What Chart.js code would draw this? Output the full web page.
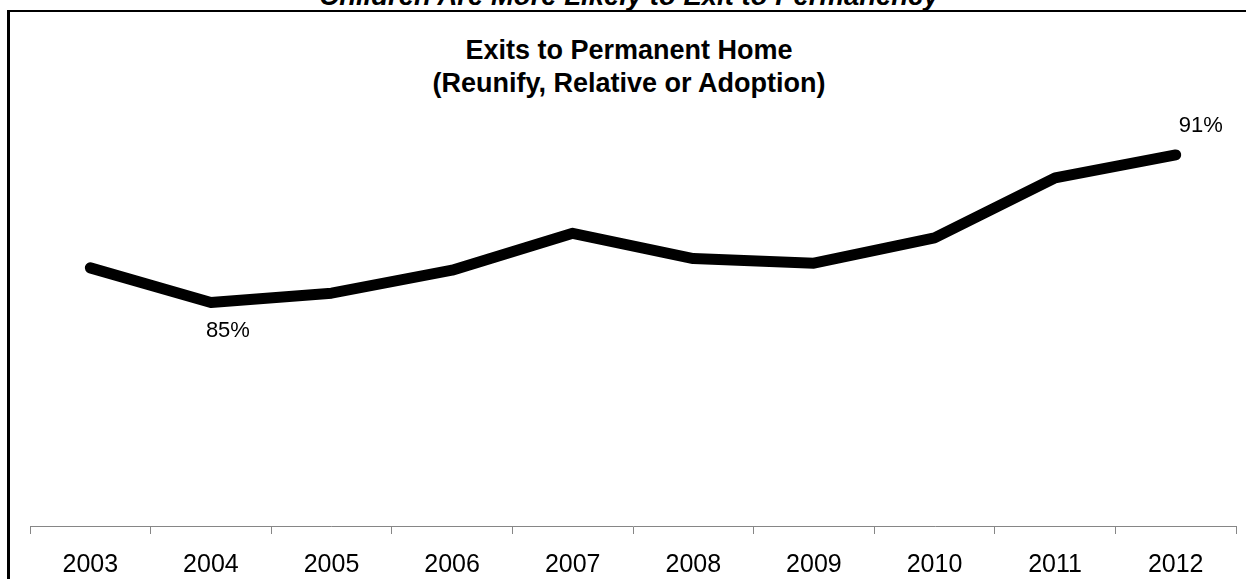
<!DOCTYPE html>
<html>
<head>
<meta charset="utf-8">
<script src="https://cdn.jsdelivr.net/npm/chart.js@4"></script>
<style>
  html, body { margin: 0; padding: 0; background: #fff; overflow: hidden; }
  #wrap { position: relative; width: 1246px; height: 579px; }
  #frame { position: absolute; left: 7px; top: 10px; width: 1300px; height: 700px;
           border-left: 3px solid #000; border-top: 2px solid #000; }
  .t { position: absolute; left: 0; width: 1258px; text-align: center; font-family: "Liberation Sans", Arial, sans-serif;
       font-weight: bold; line-height: 1; white-space: nowrap; color: #000; }
  #top { top: -18px; font-size: 27.5px; font-style: italic; }
  #t1 { top: 37px; font-size: 27px; }
  #t2 { top: 70px; font-size: 27px; }
  canvas { position: absolute; left: 0; top: 0; }
</style>
</head>
<body>
<div id="wrap">
  <div id="frame"></div>
  <div class="t" id="top">Children Are More Likely to Exit to Permanency</div>
  <div class="t" id="t1">Exits to Permanent Home</div>
  <div class="t" id="t2">(Reunify, Relative or Adoption)</div>
  <canvas id="c" width="1246" height="579"></canvas>
</div>
<script>
const years = ['2003','2004','2005','2006','2007','2008','2009','2010','2011','2012'];
const exitsPct = [86.2, 84.7, 85.1, 86.1, 87.7, 86.6, 86.4, 87.5, 90.1, 91.1];
const labeledIdx = [1, 9];

const labelPlugin = {
  id: 'pointLabels',
  afterDatasetsDraw(chart) {
    const ctx = chart.ctx;
    const meta = chart.getDatasetMeta(0);
    const offsets = { 1: [17, 35], 9: [25, -23] };
    ctx.save();
    ctx.font = '22px "Liberation Sans", Arial, sans-serif';
    ctx.fillStyle = '#000';
    ctx.textAlign = 'center';
    ctx.textBaseline = 'alphabetic';
    labeledIdx.forEach(i => {
      const p = meta.data[i];
      const o = offsets[i] || [0, -20];
      ctx.fillText(Math.round(exitsPct[i]) + '%', p.x + o[0], p.y + o[1]);
    });
    ctx.restore();
  }
};

new Chart(document.getElementById('c'), {
  type: 'line',
  data: {
    labels: years,
    datasets: [{
      data: exitsPct,
      borderColor: '#000',
      borderWidth: 11,
      borderCapStyle: 'round',
      borderJoinStyle: 'round',
      pointRadius: 0,
      pointHoverRadius: 0,
      tension: 0,
      fill: false
    }]
  },
  options: {
    responsive: false,
    animation: false,
    events: [],
    layout: { padding: { left: 30, right: 10, top: 65, bottom: -18 } },
    plugins: { legend: { display: false }, title: { display: false }, tooltip: { enabled: false } },
    scales: {
      y: { display: false, min: 75, max: 95 },
      x: {
        offset: true,
        border: { display: true, color: '#868686', width: 1 },
        grid: { offset: true, drawOnChartArea: false, drawTicks: true, tickLength: 8, color: '#868686' },
        ticks: { color: '#000', padding: 19, font: { family: '"Liberation Sans", Arial, sans-serif', size: 25, lineHeight: 1 } }
      }
    }
  },
  plugins: [labelPlugin]
});
</script>
</body>
</html>
